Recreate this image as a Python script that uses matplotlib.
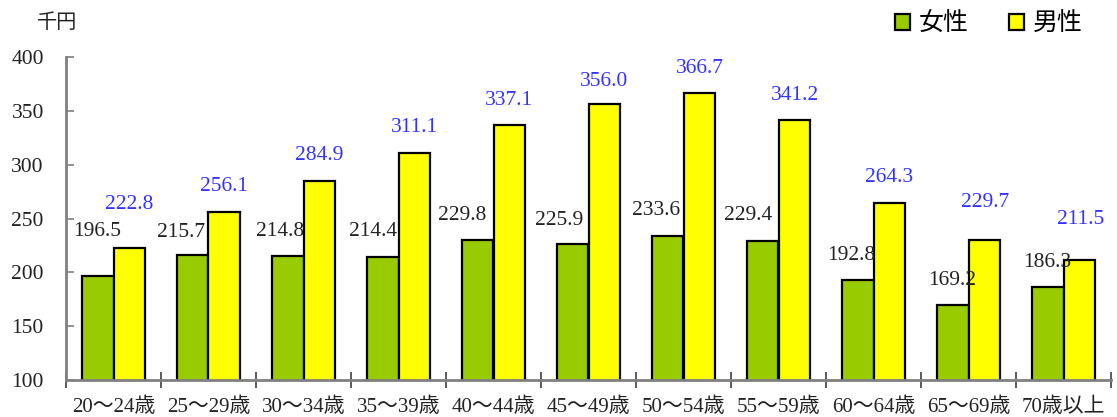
import numpy as np
import matplotlib.pyplot as plt
from matplotlib.patches import Patch

plt.rcParams['font.family'] = ['Liberation Serif', 'Noto Sans CJK JP', 'DejaVu Sans']

# data
ages = ['20～24歳', '25～29歳', '30～34歳', '35～39歳', '40～44歳', '45～49歳',
        '50～54歳', '55～59歳', '60～64歳', '65～69歳', '70歳以上']
female = [196.5, 215.7, 214.8, 214.4, 229.8, 225.9, 233.6, 229.4, 192.8, 169.2, 186.3]
male = [222.8, 256.1, 284.9, 311.1, 337.1, 356.0, 366.7, 341.2, 264.3, 229.7, 211.5]

# label nudges in pixels (dx, dy above bar top)
fem_dx = [0, -12, -8, -10, -15, -14, -12, -15, -6, 0, 0]
fem_dy = [45, 23, 25, 25, 25, 24, 26, 25, 25, 25, 25]
male_dx = [0, 0, 0, 0, 0, 0, 1, 1, 0, 1, 1]
male_dy = [43, 25, 25, 25, 24, 23, 24, 25, 26, 38, 40]

W, H = 1117, 417
fig = plt.figure(figsize=(W / 100, H / 100), dpi=100)
ax = fig.add_axes([66 / W, (H - 380) / H, (1111 - 66) / W, (380 - 57) / H])

x = np.arange(len(ages))
bw = 1 / 3
green = '#99CC00'
yellow = '#FFFF00'
ax.bar(x + 1 / 3, female, bw, color=green, edgecolor='black', linewidth=1.6)
ax.bar(x + 2 / 3, male, bw, color=yellow, edgecolor='black', linewidth=1.6)

for i in range(len(ages)):
    ax.annotate(f'{female[i]:.1f}', (x[i] + 1 / 3, female[i]),
                xytext=(fem_dx[i], fem_dy[i]), textcoords='offset pixels',
                ha='center', va='center', fontsize=15.5, color='#222222')
    ax.annotate(f'{male[i]:.1f}', (x[i] + 2 / 3, male[i]),
                xytext=(male_dx[i], male_dy[i]), textcoords='offset pixels',
                ha='center', va='center', fontsize=15.5, color='#3333FF')

ax.set_xlim(0, len(ages))
ax.set_ylim(100, 400)
ax.set_yticks(np.arange(100, 401, 50))
ax.tick_params(axis='y', direction='in', length=6, width=1.2, color='#808080',
               labelsize=15.5, pad=16, labelcolor='#222222')

ax.set_xticks(np.arange(0, len(ages) + 1))
ax.set_xticklabels([])
ax.tick_params(axis='x', which='major', direction='inout', length=11, width=1.2,
               color='#404040')
ax.set_xticks(x + 0.5, minor=True)
ax.set_xticklabels(ages, minor=True)
ax.tick_params(axis='x', which='minor', length=0, pad=13, labelsize=15,
               labelcolor='#222222')

for s in ['top', 'right']:
    ax.spines[s].set_visible(False)
for s in ['left', 'bottom']:
    ax.spines[s].set_color('#808080')
    ax.spines[s].set_linewidth(2)

fig.text(57 / W, 1 - 24 / H, '千円', ha='center', va='center', fontsize=14.5,
         color='#222222')

handles = [Patch(facecolor=green, edgecolor='black', linewidth=1.6, label='女性'),
           Patch(facecolor=yellow, edgecolor='black', linewidth=1.6, label='男性')]
fig.legend(handles=handles, loc='center', bbox_to_anchor=(989 / W, 1 - 24 / H),
           ncol=2, frameon=False, fontsize=18, handlelength=0.6, handleheight=0.6,
           handletextpad=0.35, columnspacing=1.6, borderpad=0)

fig.savefig('out.png', dpi=100)
